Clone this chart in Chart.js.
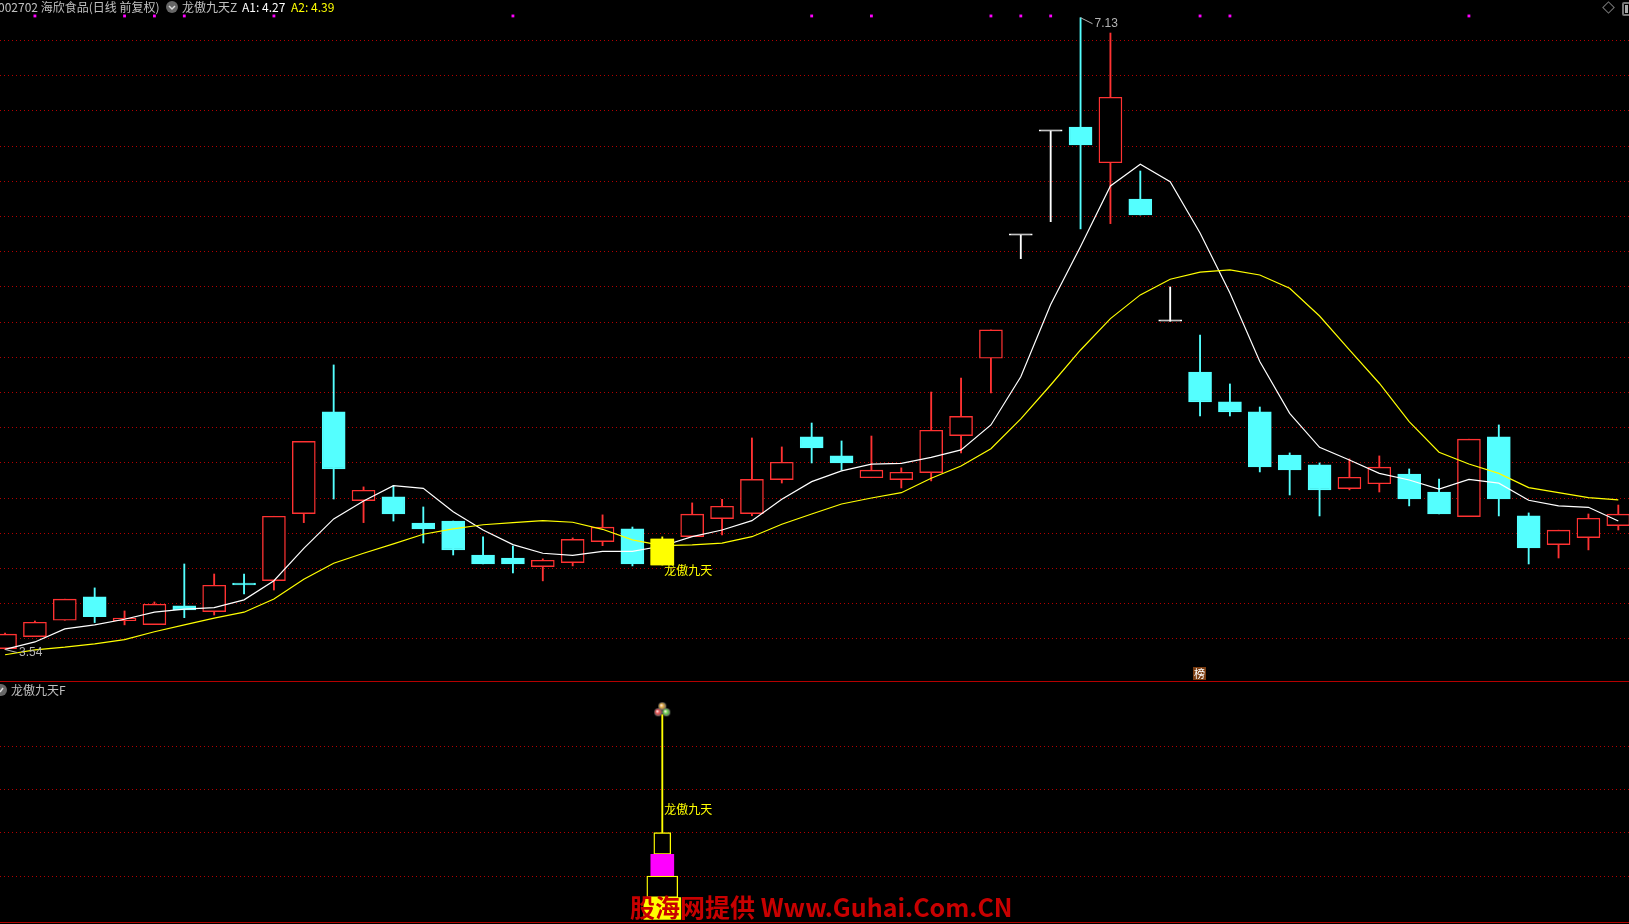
<!DOCTYPE html>
<html>
<head>
<meta charset="utf-8">
<title>龙傲九天</title>
<script src="https://cdn.jsdelivr.net/npm/chart.js@4"></script>
<style>
  html, body { margin: 0; padding: 0; background: #000; overflow: hidden; }
  #stage { position: relative; width: 1629px; height: 924px; background: #000; overflow: hidden;
    font-family: "Noto Sans CJK SC", "DejaVu Sans", sans-serif; font-size: 12px; color: #c0c0c0; }
  canvas { position: absolute; left: 0; display: block; }
  #mainChart { top: 0; }
  #subChart { top: 681px; }
  .label { position: absolute; white-space: nowrap; line-height: 14px; }
  .icon { position: absolute; width: 12px; height: 12px; border-radius: 50%; background: #666; }
  .icon svg { position: absolute; left: 0; top: 0; }
  #watermark { position: absolute; left: 630px; top: 889px; font-size: 25px; font-weight: 700; line-height: 34px;
    color: #c80000; white-space: nowrap; font-family: "Noto Sans CJK SC", "DejaVu Sans", sans-serif; }
  #bang { position: absolute; left: 1193px; top: 667px; width: 13px; height: 13px; background: #7a3d12; color: #fff;
    font-size: 11px; line-height: 13px; text-align: center; }
  #diamond { position: absolute; left: 1604px; top: 3px; width: 7px; height: 7px; border: 1px solid #777; transform: rotate(45deg); }
  #panel { position: absolute; left: 1622px; top: 2px; width: 12px; height: 10px; border: 2px solid #777; border-radius: 2px; }
  #panel i { position: absolute; left: 1px; top: 1px; width: 3px; height: 8px; background: #aaa; }
</style>
</head>
<body>
<div id="stage">
  <canvas id="mainChart" width="1629" height="681"></canvas>
  <canvas id="subChart" width="1629" height="243"></canvas>

  <span class="label" style="left:-2px;top:0">002702 海欣食品(日线 前复权)</span>
  <span class="icon" style="left:166px;top:1px"><svg width="12" height="12"><path d="M3 5l3 3 3-3" fill="none" stroke="#ddd" stroke-width="1.5"/></svg></span>
  <span class="label" style="left:182px;top:0">龙傲九天Z</span>
  <span class="label" style="left:242px;top:0;color:#fff">A1: 4.27</span>
  <span class="label" style="left:291px;top:0;color:#ff0">A2: 4.39</span>

  <span class="icon" style="left:-5px;top:684px"><svg width="12" height="12"><path d="M5 8l3-4" fill="none" stroke="#ddd" stroke-width="1.5"/></svg></span>
  <span class="label" style="left:11px;top:683px">龙傲九天F</span>

  <div id="bang">榜</div>
  <div id="diamond"></div>
  <div id="panel"><i></i></div>
  <div id="watermark">股海网提供 Www.Guhai.Com.CN</div>
</div>

<script>
// prices, one entry per trading day
const opens = [3.545,3.613,3.706,3.839,3.704,3.681,3.788,3.755,3.918,3.931,4.312,4.89,4.386,4.407,4.259,4.27,4.077,4.06,4.011,4.034,4.153,4.225,4.02,4.181,4.284,4.312,4.505,4.748,4.64,4.516,4.505,4.545,4.755,5.195,5.894,6.485,6.509,6.306,6.1,5.405,5.117,4.947,4.89,4.645,4.589,4.454,4.482,4.537,4.435,4.295,4.748,4.299,4.136,4.176,4.244];
const closes = [3.627,3.695,3.826,3.727,3.718,3.797,3.765,3.905,3.907,4.297,4.723,4.566,4.445,4.31,4.225,4.106,4.026,4.026,4.047,4.166,4.235,4.026,4.168,4.309,4.354,4.507,4.604,4.685,4.6,4.559,4.547,4.786,4.865,5.356,5.894,6.485,6.407,6.678,6.009,5.405,4.947,4.89,4.577,4.56,4.447,4.519,4.576,4.395,4.31,4.735,4.395,4.117,4.218,4.286,4.309];
const highs = [3.634,3.702,3.826,3.89,3.759,3.81,4.026,3.969,3.969,4.297,4.723,5.157,4.464,4.471,4.35,4.27,4.18,4.128,4.055,4.174,4.305,4.236,4.18,4.373,4.394,4.742,4.691,4.827,4.725,4.753,4.572,5.003,5.083,5.356,5.894,6.485,7.13,7.043,6.259,5.6,5.327,5.049,4.918,4.657,4.6,4.623,4.64,4.566,4.509,4.735,4.816,4.316,4.218,4.31,4.361];
const lows = [3.54,3.613,3.706,3.693,3.68,3.681,3.721,3.736,3.856,3.878,4.261,4.395,4.261,4.27,4.145,4.077,4.026,3.975,3.93,4.015,4.13,4.015,4.02,4.181,4.191,4.3,4.486,4.6,4.56,4.516,4.458,4.498,4.657,4.998,5.761,5.971,5.93,5.96,6.009,5.405,4.867,4.867,4.549,4.418,4.299,4.447,4.435,4.356,4.31,4.295,4.299,4.026,4.06,4.106,4.219];
const a1 = [3.541,3.583,3.657,3.68,3.712,3.752,3.769,3.778,3.822,3.931,4.115,4.282,4.384,4.471,4.456,4.323,4.219,4.136,4.087,4.075,4.098,4.098,4.128,4.181,4.219,4.272,4.394,4.494,4.555,4.593,4.598,4.632,4.674,4.816,5.09,5.5,5.83,6.174,6.297,6.198,5.907,5.566,5.176,4.882,4.689,4.617,4.541,4.503,4.452,4.507,4.485,4.388,4.356,4.348,4.27];
const a2 = [3.51,3.538,3.553,3.572,3.596,3.641,3.68,3.718,3.752,3.827,3.939,4.03,4.087,4.14,4.195,4.225,4.249,4.261,4.272,4.263,4.223,4.163,4.13,4.134,4.145,4.181,4.252,4.31,4.367,4.401,4.431,4.513,4.583,4.681,4.85,5.043,5.242,5.42,5.555,5.644,5.684,5.697,5.668,5.593,5.435,5.242,5.053,4.835,4.661,4.594,4.541,4.46,4.431,4.403,4.39];
const days = opens.map((_, i) => i);

// magenta ticks along the top edge
const markerDays = [1,4,5,6,9,17,27,29,33,34,35,40,41,49];
const markerLevel = 7.14;
const signalDay = 22;
const signalName = '龙傲九天';
const highLabel = 7.13;
const lowLabel = 3.54;

const priceTicks = [3.6,3.8,4,4.2,4.4,4.6,4.8,5,5.2,5.4,5.6,5.8,6,6.2,6.4,6.6,6.8,7];
const subTicks = [2,4,6,8];
// lower pane tower, bottom tier first
const towerTiers = [[0,1],[1,2],[2,3],[3,4]];
const towerStick = [4,9.45];
const towerIconLevel = 9.7;
const towerLabelLevel = 5;

const ChartConfig = {
  colors: {
    up: '#ff3232',
    down: '#54ffff',
    flat: '#ffffff',
    signal: '#ffff00',
    magenta: '#ff00ff',
    a1: '#ffffff',
    a2: '#ffff00',
    grid: '#b40000',
    note: '#b4b4b4'
  },
  // x scale is set so a day lands where it does in the picture: 29.875px per day, first day at 5px
  xRange: { min: -0.169, max: 54.358 },
  priceRange: { min: 3.361, max: 7.2307 },
  subRange: { min: -0.217, max: 11.007 },
  bodyWidth: 23,
  wickWidth: 1.2,
  outlineWidth: 1.4,
  lineWidth: 1.2
};

function candleColor(i) {
  if (i === signalDay) return ChartConfig.colors.signal;
  if (closes[i] > opens[i]) return ChartConfig.colors.up;
  if (closes[i] < opens[i]) return ChartConfig.colors.down;
  return ChartConfig.colors.flat;
}

function bodyFill(i) {
  return closes[i] > opens[i] && i !== signalDay ? '#000000' : candleColor(i);
}

function xAxis() {
  return { type: 'linear', offset: false, min: ChartConfig.xRange.min, max: ChartConfig.xRange.max, display: false };
}

function yAxis(range, ticks) {
  return {
    min: range.min,
    max: range.max,
    afterBuildTicks: axis => { axis.ticks = ticks.map(value => ({ value })); },
    grid: { color: ChartConfig.colors.grid, lineWidth: 1, drawTicks: false, tickLength: 0 },
    border: { display: false, dash: [1, 3] },
    ticks: { display: false }
  };
}

// text that hangs on a data point, drawn from the scales
const notesPlugin = {
  id: 'notes',
  afterDatasetsDraw(chart, args, opts) {
    const { ctx, scales } = chart;
    ctx.save();
    ctx.textBaseline = 'middle';
    (opts.items || []).forEach(item => {
      const x = scales.x.getPixelForValue(item.day);
      const y = scales.y.getPixelForValue(item.level);
      ctx.font = item.font;
      ctx.fillStyle = item.color;
      if (item.leader) {
        ctx.strokeStyle = item.color;
        ctx.lineWidth = 1;
        ctx.beginPath();
        ctx.moveTo(x, y);
        ctx.lineTo(x + item.dx - 2, y + item.dy);
        ctx.stroke();
      }
      ctx.fillText(item.text, x + item.dx, y + item.dy);
    });
    ctx.restore();
  }
};

function drawMain() {
  const config = {
    type: 'bar',
    data: {
      datasets: [
        {
          label: 'signal body',
          data: [{ x: signalDay, y: [opens[signalDay], closes[signalDay]] }],
          backgroundColor: ChartConfig.colors.signal,
          barThickness: ChartConfig.bodyWidth,
          order: 0
        },
        {
          type: 'line',
          label: 'A1',
          data: days.map(i => ({ x: i, y: a1[i] })),
          borderColor: ChartConfig.colors.a1,
          borderWidth: ChartConfig.lineWidth,
          pointRadius: 0,
          tension: 0,
          order: 2
        },
        {
          type: 'line',
          label: 'A2',
          data: days.map(i => ({ x: i, y: a2[i] })),
          borderColor: ChartConfig.colors.a2,
          borderWidth: ChartConfig.lineWidth,
          pointRadius: 0,
          tension: 0,
          order: 1
        },
        {
          type: 'line',
          label: 'markers',
          data: markerDays.map(i => ({ x: i, y: markerLevel })),
          showLine: false,
          pointStyle: 'rect',
          pointRadius: 2,
          pointBorderWidth: 0,
          pointBackgroundColor: ChartConfig.colors.magenta,
          order: 1
        },
        {
          label: 'body',
          data: days.map(i => ({ x: i, y: [opens[i], closes[i]] })),
          backgroundColor: days.map(bodyFill),
          borderColor: days.map(candleColor),
          borderWidth: ChartConfig.outlineWidth,
          borderSkipped: false,
          barThickness: ChartConfig.bodyWidth,
          minBarLength: 1.5,
          order: 3
        },
        {
          label: 'wick',
          data: days.map(i => ({ x: i, y: [lows[i], highs[i]] })),
          backgroundColor: days.map(candleColor),
          barThickness: ChartConfig.wickWidth,
          order: 4
        }
      ]
    },
    options: {
      responsive: false,
      animation: false,
      devicePixelRatio: 1,
      layout: { padding: 0, autoPadding: false },
      datasets: { bar: { grouped: false } },
      scales: {
        x: xAxis(),
        y: yAxis(ChartConfig.priceRange, priceTicks)
      },
      plugins: {
        legend: { display: false },
        tooltip: { enabled: false },
        notes: {
          items: [
            { text: String(highLabel), day: 36, level: highLabel, dx: 14, dy: 6, font: '12px "Liberation Sans"', color: ChartConfig.colors.note, leader: true },
            { text: String(lowLabel), day: 0, level: lowLabel, dx: 14, dy: 3, font: '12px "Liberation Sans"', color: ChartConfig.colors.note, leader: true },
            { text: signalName, day: signalDay, level: opens[signalDay], dx: 2, dy: 5, font: '12px "Noto Sans CJK SC"', color: ChartConfig.colors.signal }
          ]
        }
      }
    },
    plugins: [notesPlugin]
  };
  return new Chart(document.getElementById('mainChart'), config);
}

// three small balls above the stick, used as the point image
function towerIcon() {
  const icon = document.createElement('canvas');
  icon.width = 18;
  icon.height = 16;
  const c = icon.getContext('2d');
  [[9, 5, '#e8b040'], [5, 11, '#f05050'], [13, 11, '#70e050']].forEach(([x, y, color]) => {
    const g = c.createRadialGradient(x - 1, y - 1, 0.5, x, y, 4);
    g.addColorStop(0, '#ffe8e8');
    g.addColorStop(0.35, color);
    g.addColorStop(1, '#606060');
    c.fillStyle = g;
    c.beginPath();
    c.arc(x, y, 4, 0, Math.PI * 2);
    c.fill();
  });
  return icon;
}

function drawSub() {
  const outline = { backgroundColor: '#000000', borderColor: ChartConfig.colors.signal, borderWidth: ChartConfig.outlineWidth, borderSkipped: false };
  const tier = (range, width, style) => ({
    data: [{ x: signalDay, y: range }],
    barThickness: width,
    ...style
  });
  const config = {
    type: 'bar',
    data: {
      datasets: [
        tier(towerTiers[0], 37, { backgroundColor: ChartConfig.colors.signal }),
        tier(towerTiers[1], 31, outline),
        tier(towerTiers[2], 23, { backgroundColor: ChartConfig.colors.magenta }),
        tier(towerTiers[3], 17, outline),
        tier(towerStick, ChartConfig.wickWidth, { backgroundColor: ChartConfig.colors.signal }),
        {
          type: 'line',
          data: [{ x: signalDay, y: towerIconLevel }],
          showLine: false,
          pointStyle: towerIcon(),
          pointRadius: 8
        }
      ]
    },
    options: {
      responsive: false,
      animation: false,
      devicePixelRatio: 1,
      layout: { padding: 0, autoPadding: false },
      datasets: { bar: { grouped: false } },
      scales: {
        x: xAxis(),
        y: yAxis(ChartConfig.subRange, subTicks)
      },
      plugins: {
        legend: { display: false },
        tooltip: { enabled: false },
        notes: {
          items: [
            { text: signalName, day: signalDay, level: towerLabelLevel, dx: 2, dy: -2, font: '12px "Noto Sans CJK SC"', color: ChartConfig.colors.signal }
          ]
        }
      }
    },
    plugins: [notesPlugin, {
      id: 'paneEdges',
      beforeDraw(chart) {
        const { ctx, width, height } = chart;
        ctx.save();
        ctx.fillStyle = ChartConfig.colors.grid;
        ctx.fillRect(0, 0, width, 1);
        ctx.fillRect(0, height - 2, width, 1);
        ctx.restore();
      }
    }]
  };
  return new Chart(document.getElementById('subChart'), config);
}

drawMain();
drawSub();
</script>
</body>
</html>
